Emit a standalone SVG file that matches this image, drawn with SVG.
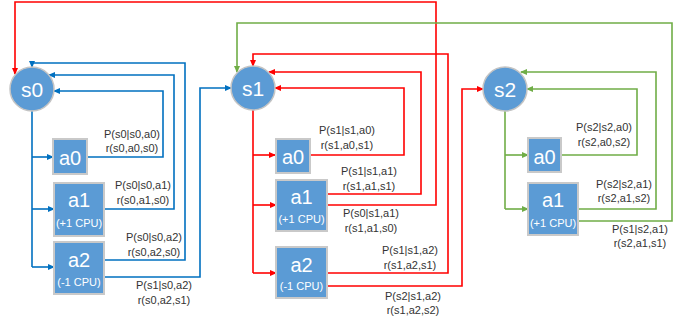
<svg xmlns="http://www.w3.org/2000/svg" width="689" height="320" viewBox="0 0 689 320">
<style>
.st{fill:#5B9BD5;stroke:#C4C4C4;stroke-width:1.5}
.bx{fill:#5B9BD5;stroke:#C9C9C9;stroke-width:2}
.nl{font-family:"Liberation Sans",Arial,sans-serif;font-size:21px;fill:#fff;text-anchor:middle}
.al{font-family:"Liberation Sans",Arial,sans-serif;font-size:20px;fill:#fff;text-anchor:middle}
.cl{font-family:"Liberation Sans",Arial,sans-serif;font-size:11px;fill:#fff;text-anchor:middle}
.lb{font-family:"Liberation Sans",Arial,sans-serif;font-size:11px;fill:#333;text-anchor:middle}
.b{fill:none;stroke:#0070C0;stroke-width:1.6;marker-end:url(#mb)}
.bn{fill:none;stroke:#0070C0;stroke-width:1.6}
.r{fill:none;stroke:#FF0000;stroke-width:1.6;marker-end:url(#mr)}
.rn{fill:none;stroke:#FF0000;stroke-width:1.6}
.g{fill:none;stroke:#70AD47;stroke-width:1.6;marker-end:url(#mg)}
.gn{fill:none;stroke:#70AD47;stroke-width:1.6}
</style>
<defs>
<marker id="mb" markerWidth="7" markerHeight="6" refX="6" refY="3" orient="auto" markerUnits="userSpaceOnUse"><path d="M0,0 L7,3 L0,6 z" fill="#0070C0"/></marker>
<marker id="mr" markerWidth="7" markerHeight="6" refX="6" refY="3" orient="auto" markerUnits="userSpaceOnUse"><path d="M0,0 L7,3 L0,6 z" fill="#FF0000"/></marker>
<marker id="mg" markerWidth="7" markerHeight="6" refX="6" refY="3" orient="auto" markerUnits="userSpaceOnUse"><path d="M0,0 L7,3 L0,6 z" fill="#70AD47"/></marker>
</defs>
<rect width="689" height="320" fill="#fff"/>
<g id="connectors">
<!-- s0 (blue) -->
<path class="bn" d="M32,111 V267"/>
<path class="b" d="M32,157 H53"/>
<path class="b" d="M32,209 H54"/>
<path class="b" d="M32,267 H54"/>
<path class="b" d="M87,157 H163 V91 H54"/>
<path class="b" d="M104,209 H174 V75 H49"/>
<path class="b" d="M104,260 H185 V63 H32 V67"/>
<path class="b" d="M104,277 H200 V88 H231"/>
<!-- s1 (red) -->
<path class="rn" d="M253,110 V273"/>
<path class="r" d="M253,155 H275"/>
<path class="r" d="M253,205 H276"/>
<path class="r" d="M253,273 H276"/>
<path class="r" d="M310,155 H404 V88 H275"/>
<path class="r" d="M327,194 H421 V72 H269"/>
<path class="r" d="M327,205 H436 V2 H15 V74"/>
<path class="r" d="M327,273 H448 V54 H253 V66"/>
<path class="r" d="M327,286 H462 V89 H483"/>
<!-- s2 (green) -->
<path class="gn" d="M505,111 V209"/>
<path class="g" d="M505,155 H528"/>
<path class="g" d="M505,209 H528"/>
<path class="g" d="M561,155 H637 V89 H527"/>
<path class="g" d="M578,209 H656 V72 H521"/>
<path class="g" d="M578,221 H672 V23 H237 V72"/>
</g>
<g id="s0"><circle class="st" cx="32" cy="89" r="22"/><text class="nl" x="32" y="97">s0</text></g>
<g id="s1"><circle class="st" cx="253" cy="88" r="22"/><text class="nl" x="253" y="96">s1</text></g>
<g id="s2"><circle class="st" cx="505" cy="89" r="22"/><text class="nl" x="505" y="97">s2</text></g>
<g id="s0a0"><rect class="bx" x="53" y="139" width="34" height="35"/><text class="al" x="70" y="165">a0</text></g>
<g id="s0a1"><rect class="bx" x="54" y="183" width="50" height="53"/><text class="al" x="79" y="207">a1</text><text class="cl" x="79" y="227">(+1 CPU)</text></g>
<g id="s0a2"><rect class="bx" x="54" y="242" width="50" height="52"/><text class="al" x="79" y="267">a2</text><text class="cl" x="79" y="286">(-1 CPU)</text></g>
<g id="s1a0"><rect class="bx" x="276" y="139" width="34" height="34"/><text class="al" x="293" y="164">a0</text></g>
<g id="s1a1"><rect class="bx" x="276" y="180" width="51" height="51"/><text class="al" x="301.5" y="204">a1</text><text class="cl" x="301.5" y="223">(+1 CPU)</text></g>
<g id="s1a2"><rect class="bx" x="276" y="247" width="51" height="51"/><text class="al" x="301.5" y="272">a2</text><text class="cl" x="301.5" y="290">(-1 CPU)</text></g>
<g id="s2a0"><rect class="bx" x="528" y="138" width="33" height="34"/><text class="al" x="544.5" y="164">a0</text></g>
<g id="s2a1"><rect class="bx" x="528" y="183" width="50" height="52"/><text class="al" x="553" y="207">a1</text><text class="cl" x="553" y="227">(+1 CPU)</text></g>
<g id="labels">
<text class="lb" x="132" y="137.5">P(s0|s0,a0)</text><text class="lb" x="132" y="152">r(s0,a0,s0)</text>
<text class="lb" x="143" y="189">P(s0|s0,a1)</text><text class="lb" x="143" y="204">r(s0,a1,s0)</text>
<text class="lb" x="154" y="241">P(s0|s0,a2)</text><text class="lb" x="154" y="256">r(s0,a2,s0)</text>
<text class="lb" x="164" y="289">P(s1|s0,a2)</text><text class="lb" x="164" y="304">r(s0,a2,s1)</text>
<text class="lb" x="347" y="134">P(s1|s1,a0)</text><text class="lb" x="347" y="149">r(s1,a0,s1)</text>
<text class="lb" x="369" y="175">P(s1|s1,a1)</text><text class="lb" x="369" y="189.5">r(s1,a1,s1)</text>
<text class="lb" x="371" y="217">P(s0|s1,a1)</text><text class="lb" x="371" y="232">r(s1,a1,s0)</text>
<text class="lb" x="410" y="254">P(s1|s1,a2)</text><text class="lb" x="410" y="269">r(s1,a2,s1)</text>
<text class="lb" x="413" y="300">P(s2|s1,a2)</text><text class="lb" x="413" y="314">r(s1,a2,s2)</text>
<text class="lb" x="604" y="131">P(s2|s2,a0)</text><text class="lb" x="604" y="146">r(s2,a0,s2)</text>
<text class="lb" x="624" y="187.5">P(s2|s2,a1)</text><text class="lb" x="624" y="202">r(s2,a1,s2)</text>
<text class="lb" x="640" y="233">P(s1|s2,a1)</text><text class="lb" x="640" y="247">r(s2,a1,s1)</text>
</g>
</svg>
